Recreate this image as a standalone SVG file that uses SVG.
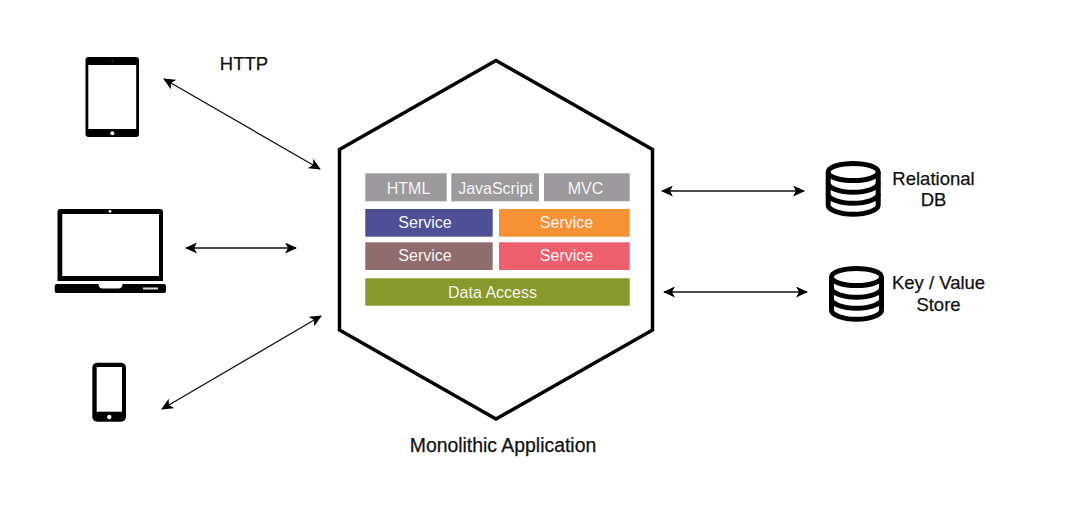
<svg xmlns="http://www.w3.org/2000/svg" width="1088" height="518" viewBox="0 0 1088 518">
<style>
text{font-family:"Liberation Sans",Arial,sans-serif;text-anchor:middle}
.lbl{font-size:18.500px;fill:#111;stroke:#111;stroke-width:.25}
.in{font-size:16px;fill:#f4f4f4}
.arr{stroke:#111;stroke-width:1.300;fill:none;marker-start:url(#ah);marker-end:url(#ah)}
.db{fill:none;stroke:#000;stroke-width:5}
</style>
<defs>
<marker id="ah" viewBox="0 0 12 11" refX="11" refY="5.500" markerWidth="12" markerHeight="11" markerUnits="userSpaceOnUse" orient="auto-start-reverse"><path d="M0 0L12 5.500L0 11L3 5.500Z" fill="#000"/></marker>
</defs>
<rect width="1088" height="518" fill="#fff"/>
<g id="connectors">
<line class="arr" x1="164" y1="79" x2="320" y2="169"/>
<line class="arr" x1="186" y1="248" x2="296" y2="248"/>
<line class="arr" x1="162" y1="409" x2="321" y2="316"/>
<line class="arr" x1="662" y1="191" x2="804" y2="191"/>
<line class="arr" x1="664" y1="292" x2="807" y2="292"/>
</g>
<g id="tablet">
<rect x="85.500" y="57" width="53.500" height="80" rx="3" fill="#000"/>
<rect x="88.300" y="65" width="47.900" height="64" fill="#fff"/>
<circle cx="112.300" cy="133.300" r="2" fill="#fff"/>
<circle cx="112.300" cy="61" r="0.800" fill="#666"/>
</g>
<g id="laptop">
<path d="M60.500 209H160a3 3 0 0 1 3 3V281H57.500V212a3 3 0 0 1 3-3Z" fill="#000"/>
<rect x="62.300" y="214" width="96.700" height="62" fill="#fff"/>
<circle cx="110" cy="211.300" r="1.400" fill="#fff"/>
<path d="M56.700 284H98.500c0 3 2 4.500 4 4.500h16c2 0 4-1.500 4-4.500H164a2 2 0 0 1 2 2v5a2 2 0 0 1-2 2H56.700a2 2 0 0 1-2-2v-5a2 2 0 0 1 2-2Z" fill="#000"/>
<rect x="143" y="287.500" width="15" height="2" fill="#ddd"/>
</g>
<g id="phone">
<rect x="92.300" y="362.700" width="33.700" height="59" rx="5" fill="#000"/>
<rect x="96.700" y="367" width="25.300" height="44.700" fill="#fff"/>
<circle cx="109.300" cy="417" r="2.200" fill="#fff"/>
</g>
<g id="http"><text class="lbl" x="244" y="69.500">HTTP</text></g>
<g id="monolith">
<path d="M496 60.500L652.500 149.500V330L496 419L339.500 330V149.500Z" fill="#fff" stroke="#000" stroke-width="3.500"/>
<text class="lbl" x="503" y="451.700" style="font-size:19.400px">Monolithic Application</text>
</g>
<g id="html"><rect x="365.300" y="173.300" width="81.400" height="28" fill="#9c9a9c"/><text class="in" x="408.500" y="193.500">HTML</text></g>
<g id="javascript"><rect x="451.300" y="173.300" width="87.700" height="28" fill="#9c9a9c"/><text class="in" x="495.500" y="193.500">JavaScript</text></g>
<g id="mvc"><rect x="544" y="173.300" width="85.700" height="28" fill="#9c9a9c"/><text class="in" x="585.500" y="193.500">MVC</text></g>
<g id="service1"><rect x="365.300" y="209" width="127.400" height="27.700" fill="#4e4f94"/><text class="in" x="425" y="227.500">Service</text></g>
<g id="service2"><rect x="499" y="209" width="130.700" height="27.700" fill="#f69134"/><text class="in" x="566.500" y="227.500">Service</text></g>
<g id="service3"><rect x="365.300" y="242.300" width="127.400" height="27.700" fill="#8f6d6f"/><text class="in" x="425" y="261">Service</text></g>
<g id="service4"><rect x="499" y="242.300" width="130.700" height="27.700" fill="#ee5f6e"/><text class="in" x="566.500" y="261">Service</text></g>
<g id="data-access"><rect x="365.300" y="278.300" width="264.400" height="27.400" fill="#87992a"/><text class="in" x="492.500" y="298.300">Data Access</text></g>
<g id="relational-db">
<g class="db"><ellipse cx="853.200" cy="172" rx="25" ry="8.500"/><path d="M828.200 172V205c0 5 11 9.200 25 9.200s25-4.200 25-9.200V172"/><path d="M828.200 183c0 5 11 9.200 25 9.200s25-4.200 25-9.200"/><path d="M828.200 194c0 5 11 9.200 25 9.200s25-4.200 25-9.200"/></g>
<text class="lbl" x="933.500" y="184.600">Relational</text><text class="lbl" x="933.500" y="206">DB</text>
</g>
<g id="key-value-store">
<g class="db"><ellipse cx="856.500" cy="277" rx="25" ry="8.500"/><path d="M831.500 277V310c0 5 11 9.200 25 9.200s25-4.200 25-9.200V277"/><path d="M831.500 288c0 5 11 9.200 25 9.200s25-4.200 25-9.200"/><path d="M831.500 299c0 5 11 9.200 25 9.200s25-4.200 25-9.200"/></g>
<text class="lbl" x="938.500" y="289.300">Key / Value</text><text class="lbl" x="938.500" y="311">Store</text>
</g>
</svg>
